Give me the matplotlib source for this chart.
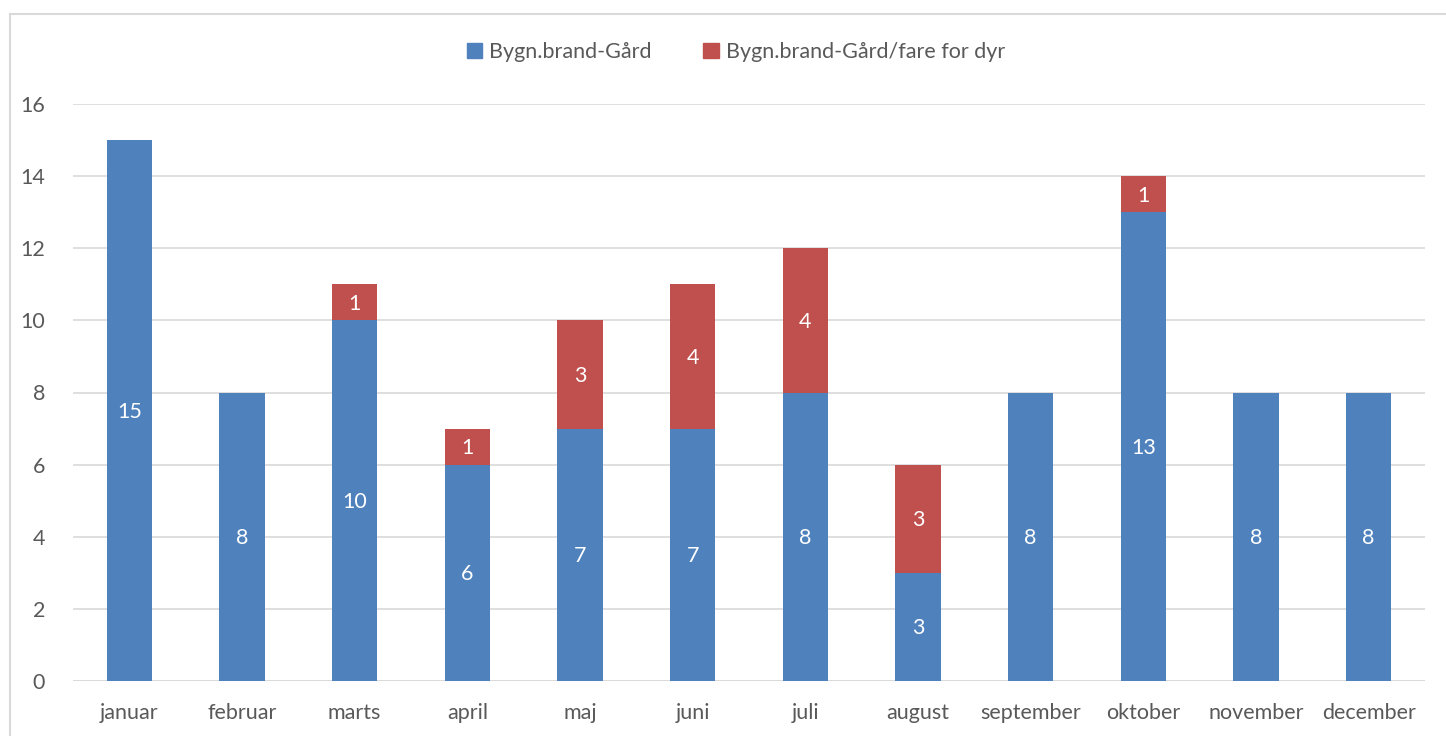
import matplotlib
matplotlib.use("Agg")
import matplotlib.pyplot as plt
from matplotlib.lines import Line2D
from matplotlib.patches import Patch
import numpy as np

months = ["januar", "februar", "marts", "april", "maj", "juni", "juli",
          "august", "september", "oktober", "november", "december"]
gaard = [15, 8, 10, 6, 7, 7, 8, 3, 8, 13, 8, 8]
gaard_dyr = [0, 0, 1, 1, 3, 4, 4, 3, 0, 1, 0, 0]
series_names = ["Bygn.brand-Gård", "Bygn.brand-Gård/fare for dyr"]
yticks = [0, 2, 4, 6, 8, 10, 12, 14, 16]

plt.rcParams['font.family'] = ['Lato', 'DejaVu Sans']
blue = "#4F81BD"
red = "#C0504D"
textc = "#595959"
fs = 15.5

W, H = 1446, 736
fig = plt.figure(figsize=(W/100, H/100), dpi=100)
ax = fig.add_axes([73/W, 55/H, (1425-73)/W, (681-104)/H])

x = np.arange(len(months))
bw = 0.4
ax.bar(x, gaard, bw, color=blue, zorder=3)
ax.bar(x, gaard_dyr, bw, bottom=gaard, color=red, zorder=3)

for i in range(len(months)):
    if gaard[i] > 0:
        ax.text(x[i], gaard[i]/2 - 0.04, str(gaard[i]), ha='center', va='center',
                color='white', fontsize=fs, zorder=4)
    if gaard_dyr[i] > 0:
        ax.text(x[i], gaard[i] + gaard_dyr[i]/2 - 0.04, str(gaard_dyr[i]), ha='center',
                va='center', color='white', fontsize=fs, zorder=4)

ax.set_xlim(-0.5, len(months)-0.5)
ax.set_ylim(0, 16)
ax.set_yticks(yticks)
ax.set_xticks(x)
ax.set_xticklabels(months)
ax.yaxis.grid(True, color="#D9D9D9", linewidth=1.2, zorder=0)
for s in ax.spines.values():
    s.set_visible(False)
ax.axhline(0, color="#D9D9D9", linewidth=1.2, zorder=2)
ax.tick_params(axis='both', length=0, colors=textc, labelsize=fs)
ax.tick_params(axis='y', pad=20)
ax.tick_params(axis='x', pad=16)

handles = [Patch(color=blue), Patch(color=red)]
fig.legend(handles, series_names, loc='center', bbox_to_anchor=(736/W, 1-52/H),
           ncol=2, frameon=False, fontsize=fs, handlelength=0.7, handleheight=0.7,
           columnspacing=2.4, handletextpad=0.35, labelcolor=textc)

# chart area border (top and left visible)
fig.add_artist(Line2D([9.5/W, 9.5/W], [0, 1-13.5/H], transform=fig.transFigure,
                      color="#D9D9D9", linewidth=1.5))
fig.add_artist(Line2D([9.5/W, 1], [1-13.5/H, 1-13.5/H], transform=fig.transFigure,
                      color="#D9D9D9", linewidth=1.5))

fig.savefig("out.png", dpi=100)
